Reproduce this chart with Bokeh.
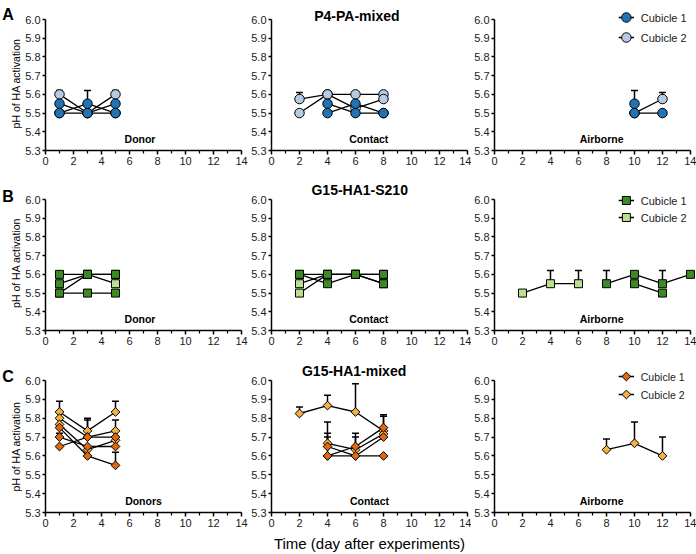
import numpy as np
from bokeh.plotting import figure
from bokeh.models import Range1d, FixedTicker, Label, Whisker, ColumnDataSource, TeeHead
from bokeh.layouts import column, row
from bokeh.embed import file_html
from bokeh.resources import INLINE

FONT = "Liberation Sans"

# ---------------- axes / text ----------------
X_TICKS = [0, 2, 4, 6, 8, 10, 12, 14]
X_TICK_LABELS = ["0", "2", "4", "6", "8", "10", "12", "14"]
X_MINOR = [1, 3, 5, 7, 9, 11, 13]
Y_TICKS = [5.3, 5.4, 5.5, 5.6, 5.7, 5.8, 5.9, 6.0]
Y_TICK_LABELS = ["5.3", "5.4", "5.5", "5.6", "5.7", "5.8", "5.9", "6.0"]

ROW_TITLES = ["P4-PA-mixed", "G15-HA1-S210", "G15-HA1-mixed"]
ROW_LETTERS = ["A", "B", "C"]
GROUP_LABELS = [["Donor", "Contact", "Airborne"],
                ["Donor", "Contact", "Airborne"],
                ["Donors", "Contact", "Airborne"]]
LEGEND_LABELS = ["Cubicle 1", "Cubicle 2"]
Y_LABEL = "pH of HA activation"
X_LABEL = "Time (day after experiments)"

COLORS = [("#1f74b8", "#b4cbe3"), ("#3b8a22", "#b9e08c"), ("#e2670f", "#f3b240")]
MARKERS = ["circle", "square", "diamond"]

# ---------------- data (A: P4-PA-mixed) ----------------
A_DON_DAYS = [1, 3, 5]
A_DON_C1 = [[5.55, 5.50, 5.55], [5.50, 5.50, 5.50], [5.50, 5.55, 5.50]]
A_DON_C1_ERR = [[0, 0, 0], [0, 0, 0], [0, 0.07, 0]]
A_DON_C2 = [[5.60, 5.50, 5.60]]
A_DON_C2_ERR = [[0.02, 0, 0.02]]

A_CON_DAYS = [2, 4, 6, 8]
A_CON_C1 = [[None, 5.55, 5.50, 5.50], [None, 5.50, 5.55, 5.50]]
A_CON_C1_ERR = [[0, 0, 0, 0], [0, 0, 0, 0]]
A_CON_C2 = [[5.575, 5.60, 5.60, 5.60], [5.50, 5.60, 5.525, 5.575]]
A_CON_C2_ERR = [[0.035, 0.01, 0.01, 0.01], [0, 0, 0, 0]]

A_AIR_DAYS = [10, 12]
A_AIR_C1 = [[5.50, 5.50], [5.55, None]]
A_AIR_C1_ERR = [[0, 0], [0.07, 0]]
A_AIR_C2 = [[5.50, 5.575]]
A_AIR_C2_ERR = [[0, 0.035]]

# ---------------- data (B: G15-HA1-S210) ----------------
B_DON_DAYS = [1, 3, 5]
B_DON_C1 = [[5.60, 5.60, 5.60], [5.55, 5.60, 5.60], [5.50, 5.50, 5.50]]
B_DON_C1_ERR = [[0, 0, 0], [0, 0, 0], [0, 0, 0]]
B_DON_C2 = [[5.50, 5.60, 5.55]]
B_DON_C2_ERR = [[0, 0, 0]]

B_CON_DAYS = [2, 4, 6, 8]
B_CON_C1 = [[5.60, 5.60, 5.60, 5.60], [5.60, 5.55, 5.60, 5.55]]
B_CON_C1_ERR = [[0, 0, 0, 0], [0, 0, 0, 0]]
B_CON_C2 = [[5.55, 5.60, 5.60, 5.60], [5.50, 5.60, 5.60, 5.55]]
B_CON_C2_ERR = [[0, 0, 0, 0], [0, 0, 0, 0]]

B_AIR_DAYS = [2, 4, 6, 8, 10, 12, 14]
B_AIR_C1 = [[None, None, None, 5.55, 5.60, 5.55, 5.60],
            [None, None, None, None, 5.55, 5.50, None]]
B_AIR_C1_ERR = [[0, 0, 0, 0.07, 0, 0.07, 0], [0, 0, 0, 0, 0, 0, 0]]
B_AIR_C2 = [[5.50, 5.55, 5.55, None, None, None, None]]
B_AIR_C2_ERR = [[0, 0.07, 0.07, 0, 0, 0, 0]]

# ---------------- data (C: G15-HA1-mixed) ----------------
C_DON_DAYS = [1, 3, 5]
C_DON_C1 = [[5.75, 5.60, 5.55], [5.70, 5.65, 5.65], [5.65, 5.70, 5.70]]
C_DON_C1_ERR = [[0, 0, 0.07], [0.02, 0, 0], [0, 0.09, 0]]
C_DON_C2 = [[5.833, 5.733, 5.833], [5.80, 5.70, 5.733], [5.767, 5.633, 5.683]]
C_DON_C2_ERR = [[0.057, 0.067, 0.057], [0, 0, 0.057], [0, 0, 0]]

C_CON_DAYS = [2, 4, 6, 8]
C_CON_C1 = [[None, 5.65, 5.60, 5.60], [None, 5.60, 5.65, 5.75], [None, 5.60, 5.60, 5.70]]
C_CON_C1_ERR = [[0, 0.07, 0, 0], [0, 0.10, 0.07, 0.06], [0, 0, 0, 0]]
C_CON_C2 = [[5.825, 5.867, 5.833, 5.733], [None, 5.667, 5.633, 5.717]]
C_CON_C2_ERR = [[0.035, 0.055, 0.15, 0.085], [0, 0.113, 0.067, 0]]

C_AIR_DAYS = [8, 10, 12]
C_AIR_C1 = []
C_AIR_C1_ERR = []
C_AIR_C2 = [[5.633, 5.667, 5.60]]
C_AIR_C2_ERR = [[0.057, 0.113, 0.10]]

PANELS = [
    [(A_DON_DAYS, A_DON_C1, A_DON_C1_ERR, A_DON_C2, A_DON_C2_ERR),
     (A_CON_DAYS, A_CON_C1, A_CON_C1_ERR, A_CON_C2, A_CON_C2_ERR),
     (A_AIR_DAYS, A_AIR_C1, A_AIR_C1_ERR, A_AIR_C2, A_AIR_C2_ERR)],
    [(B_DON_DAYS, B_DON_C1, B_DON_C1_ERR, B_DON_C2, B_DON_C2_ERR),
     (B_CON_DAYS, B_CON_C1, B_CON_C1_ERR, B_CON_C2, B_CON_C2_ERR),
     (B_AIR_DAYS, B_AIR_C1, B_AIR_C1_ERR, B_AIR_C2, B_AIR_C2_ERR)],
    [(C_DON_DAYS, C_DON_C1, C_DON_C1_ERR, C_DON_C2, C_DON_C2_ERR),
     (C_CON_DAYS, C_CON_C1, C_CON_C1_ERR, C_CON_C2, C_CON_C2_ERR),
     (C_AIR_DAYS, C_AIR_C1, C_AIR_C1_ERR, C_AIR_C2, C_AIR_C2_ERR)],
]

# ---------------- layout (pixels) ----------------
STRIP_W = 22
COL_W = [226, 223, 225]
COL_LEFT = [21, 23, 22]
COL_RIGHT = [7, 4, 0]
X_END = [14, 14, 14.43]
ROW_H = [175, 180, 199]
ROW_TOP = [19, 24, 25]          # space above the 6.0 tick (kept inside the frame)
ROW_BOTTOM = [25, 25, 42]
Y_START, Y_TOP = 5.3, 6.0

GROUP_X = [[6.75, 6.95, 7.65], [6.75, 6.95, 7.65], [7.0, 7.0, 7.65]]
TITLE_X = [6.1, 6.3, 5.9]
TITLE_DY = [4, 10, 10]          # title centre, px above the 6.0 tick
LETTER_BASE = [13.5, 21, 21]    # px from row top
YLABEL_MID = [83, 87.5, 91]     # px from row top
LEG_DY = [(2, -18), (-1, -18), (4, -14)]  # px above 6.0 tick
LEG_FONT = ["11px", "11px", "10.5px"]


def nanarr(v):
    return np.array([np.nan if a is None else a for a in v], dtype=float)


def style_axes(p):
    p.xgrid.visible = False
    p.ygrid.visible = False
    for ax in (p.xaxis[0], p.yaxis[0]):
        ax.axis_line_color = "black"
        ax.axis_line_width = 1.5
        ax.major_tick_line_color = "black"
        ax.major_tick_line_width = 1.5
        ax.minor_tick_line_color = "black"
        ax.minor_tick_line_width = 1.2
        ax.major_tick_in = 0
        ax.minor_tick_in = 0
        ax.major_label_text_font = FONT
        ax.major_label_text_font_size = "11px"
        ax.major_label_text_color = "#1a1a1a"
        ax.major_label_standoff = 2
    xa = p.xaxis[0]
    xa.ticker = FixedTicker(ticks=X_TICKS, minor_ticks=X_MINOR)
    xa.major_label_overrides = {t: l for t, l in zip(X_TICKS, X_TICK_LABELS)}
    xa.bounds = (X_TICKS[0], X_TICKS[-1])
    xa.major_tick_out = 4
    xa.minor_tick_out = 3
    ya = p.yaxis[0]
    ya.ticker = FixedTicker(ticks=Y_TICKS)
    ya.major_label_overrides = {t: l for t, l in zip(Y_TICKS, Y_TICK_LABELS)}
    ya.bounds = (Y_TICKS[0], Y_TICKS[-1])
    ya.major_tick_out = 3


def add_marker(p, xs, ys, kind, color):
    if kind == "diamond":
        p.scatter(xs, ys, marker="square", angle=np.pi / 4, size=6.2,
                  fill_color=color, line_color="black", line_width=1)
    elif kind == "square":
        p.scatter(xs, ys, marker="square", size=8,
                  fill_color=color, line_color="black", line_width=1)
    else:
        p.scatter(xs, ys, marker="circle", size=9.5,
                  fill_color=color, line_color="black", line_width=1)


rows = []
for r in range(3):
    H = ROW_H[r]
    frame_h = H - ROW_BOTTOM[r]                      # frame runs to the top of the row
    ppu = (frame_h - ROW_TOP[r]) / (Y_TOP - Y_START)  # px per pH unit
    y_end = Y_TOP + ROW_TOP[r] / ppu
    # left strip holding the panel letter and the y axis title
    s = figure(width=STRIP_W, height=H, x_range=Range1d(0, STRIP_W), y_range=Range1d(frame_h, 0),
               x_axis_type=None, y_axis_type=None, output_backend="svg",
               toolbar_location=None, tools="", min_border=0, min_border_left=0,
               min_border_right=0, min_border_top=0, min_border_bottom=ROW_BOTTOM[r],
               outline_line_color=None, border_fill_color="white")
    s.add_layout(Label(x=7.5, y=LETTER_BASE[r], text=ROW_LETTERS[r], text_font=FONT,
                       text_font_size="16px", text_font_style="bold", text_align="center",
                       text_baseline="alphabetic", text_color="black"))
    s.add_layout(Label(x=15, y=YLABEL_MID[r], text=Y_LABEL, angle=np.pi / 2, text_font=FONT,
                       text_font_size="10.5px", text_align="center", text_baseline="middle",
                       text_color="black"))
    figs = [s]
    dark, light = COLORS[r]
    for c in range(3):
        days, c1, c1e, c2, c2e = PANELS[r][c]
        p = figure(width=COL_W[c], height=H,
                   x_range=Range1d(0, X_END[c]), y_range=Range1d(Y_START, y_end),
                   output_backend="svg", toolbar_location=None, tools="",
                   min_border_left=COL_LEFT[c], min_border_right=COL_RIGHT[c],
                   min_border_top=0, min_border_bottom=ROW_BOTTOM[r],
                   outline_line_color=None, background_fill_color="white",
                   border_fill_color="white")
        style_axes(p)
        x = np.array(days, dtype=float)
        # connecting lines
        for series in c2 + c1:
            p.line(x, nanarr(series), line_color="black", line_width=1.3)
        # error bars (upper only)
        bx, lo, hi = [], [], []
        for series, errs in zip(c2 + c1, c2e + c1e):
            for xi, yi, ei in zip(days, series, errs):
                if yi is not None and ei:
                    bx.append(xi)
                    lo.append(yi)
                    hi.append(yi + ei)
        if bx:
            src = ColumnDataSource(dict(base=bx, lower=lo, upper=hi))
            p.add_layout(Whisker(source=src, base="base", lower="lower", upper="upper",
                                 line_color="black", line_width=1.5, lower_head=None,
                                 upper_head=TeeHead(size=7, line_color="black", line_width=1.5)))
        # markers
        for series in c2:
            add_marker(p, x, nanarr(series), MARKERS[r], light)
        for series in c1:
            add_marker(p, x, nanarr(series), MARKERS[r], dark)
        # group label
        p.add_layout(Label(x=GROUP_X[r][c], y=5.362, text=GROUP_LABELS[r][c],
                           text_font=FONT, text_font_size="10.5px", text_font_style="bold",
                           text_align="center", text_baseline="middle", text_color="black"))
        if c == 1:
            p.add_layout(Label(x=TITLE_X[r], y=Y_TOP + TITLE_DY[r] / ppu, text=ROW_TITLES[r],
                               text_font=FONT, text_font_size="14px", text_font_style="bold",
                               text_align="center", text_baseline="middle", text_color="black"))
            if r == 2:
                p.xaxis[0].axis_label = X_LABEL
                p.xaxis[0].axis_label_text_font = FONT
                p.xaxis[0].axis_label_text_font_size = "15px"
                p.xaxis[0].axis_label_text_font_style = "normal"
                p.xaxis[0].axis_label_text_color = "black"
                p.xaxis[0].axis_label_standoff = 5
        if c == 2:
            for k, (lab, col) in enumerate(zip(LEGEND_LABELS, (dark, light))):
                ly = Y_TOP + LEG_DY[r][k] / ppu
                p.segment(x0=[9.42 - 0.55], y0=[ly], x1=[9.42 + 0.55], y1=[ly],
                          line_color="black", line_width=1.3)
                add_marker(p, [9.42], [ly], MARKERS[r], col)
                p.add_layout(Label(x=10.45, y=ly, text=lab, text_font=FONT,
                                   text_font_size=LEG_FONT[r], text_align="left",
                                   text_baseline="middle", text_color="#1a1a1a"))
        figs.append(p)
    rows.append(row(*figs, spacing=0))

layout = column(*rows, spacing=0)
open("out.html", "w").write(file_html(layout, INLINE))
